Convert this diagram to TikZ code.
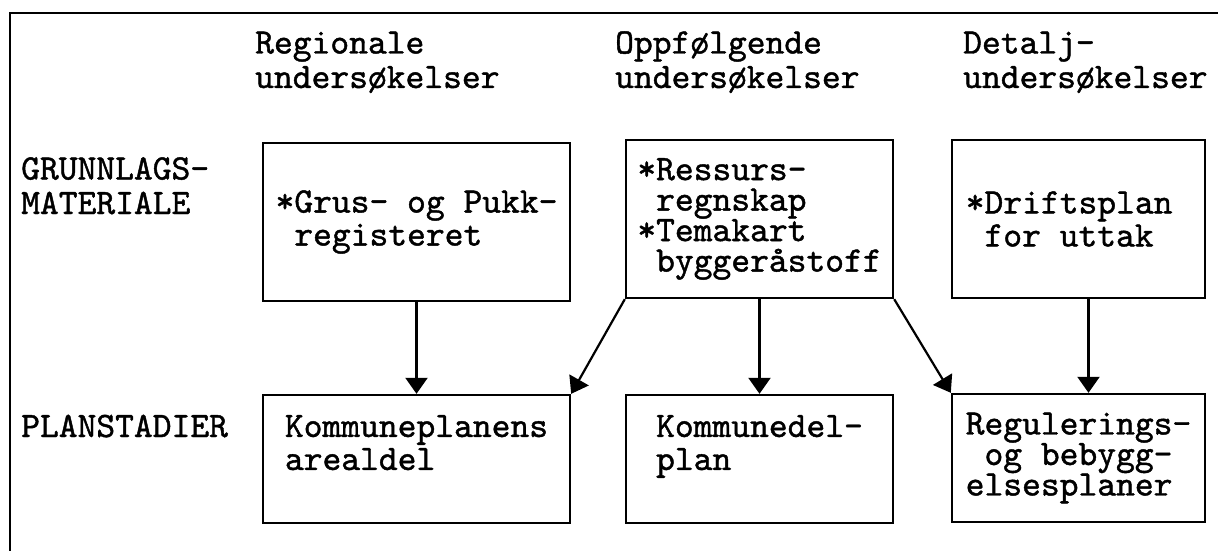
\documentclass[tikz,border=0pt]{standalone}
\usepackage{fontspec}
\newfontfamily\typefont{lmmono10-regular.otf}[FakeBold=1.2]
\usetikzlibrary{arrows.meta}
\newcommand{\ind}{\hspace*{0.525em}}
\tikzset{%
  box/.style = {rectangle,draw,line width=2.4pt,inner sep=0pt,align=left,
        font=\typefont\fontsize{35.8}{33}\selectfont},
  tight/.style = {font=\typefont\fontsize{35.8}{30.5}\selectfont},
  lbl/.style = {anchor=base west,inner sep=0pt,align=left,
        font=\typefont\fontsize{35.8}{34.5}\selectfont},
  pil/.style = {-{Triangle[length=16pt,width=22pt]},line width=2.2pt}
}

\begin{document}
\begin{tikzpicture}[x=1pt,y=-1pt]
    \useasboundingbox (0,0) rectangle (1218,551);
    % frame
    \draw[line width=2.4pt] (1218,13) -- (10,13) -- (10,551);

    % column and row headings (base = last line)
    \node[lbl] (regional) at (255,88) {Regionale\\undersøkelser};
    \node[lbl] (oppfolg) at (615,88) {Oppfølgende\\undersøkelser};
    \node[lbl] (detalj) at (963,88) {Detalj-\\undersøkelser};
    \node[lbl] (grunnlag) at (21,214) {GRUNNLAGS-\\MATERIALE};
    \node[lbl] (planstad) at (21,437) {PLANSTADIER};

    % grunnlagsmateriale
    \node[box,minimum width=307pt,minimum height=158pt] (grus) at (416.5,222)
        {*Grus- og Pukk-\\\ind registeret};
    \node[box,tight,minimum width=267pt,minimum height=158pt] (ressurs) at (759.5,219)
        {*Ressurs-\\\ind regnskap\\*Temakart\\\ind byggeråstoff};
    \node[box,minimum width=253pt,minimum height=158pt] (drift) at (1078.5,219)
        {*Driftsplan\ind\\\ind for uttak};

    % planstadier, text sits in the upper part of the box
    \node[box,minimum width=307pt,minimum height=128pt] (kplan) at (416.5,459)
        {Kommuneplanens\\arealdel\\~};
    \node[box,minimum width=267pt,minimum height=128pt] (kdel) at (759.5,459)
        {Kommunedel-\\plan\\~};
    \node[box,tight,minimum width=253pt,minimum height=128pt] (regul) at (1078.5,458)
        {Regulerings-\\\ind og bebygg-\\elsesplaner};

    % arrows
    \draw[pil] (grus) -- (kplan);
    \draw[pil] (ressurs) -- (kdel);
    \draw[pil] ([xshift=10pt]drift.south) -- ([xshift=10pt]regul.north);
    \draw[pil] (ressurs.south west) -- (kplan.north east);
    \draw[pil] (ressurs.south east) -- (regul.north west);
\end{tikzpicture}
\end{document}
